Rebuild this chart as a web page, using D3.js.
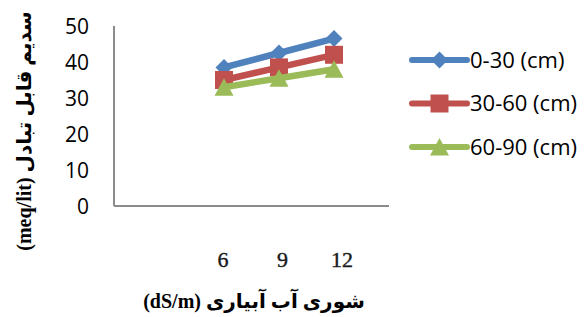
<!DOCTYPE html>
<html>
<head>
<meta charset="utf-8">
<script src="https://cdn.jsdelivr.net/npm/d3@7"></script>
<style>
	body { margin: 0; background: #fff; }
	svg { display: block; }
</style>
</head>
<body>
<svg id="chart" width="587" height="317"></svg>
<script>

// salinity of irrigation water (dS/m)
var salinity	= [6, 9, 12];
var xTicks		= ["6", "9", "12"];
var yTicks		= [0, 10, 20, 30, 40, 50];

var depth0_30	= [38.5, 42.5, 46.5];
var depth30_60	= [35, 38.5, 42];
var depth60_90	= [33, 35.5, 38];

var seriesNames	= ["0-30 (cm)", "30-60 (cm)", "60-90 (cm)"];
var seriesColors = ["#4F81BD", "#C0504D", "#9BBB59"];
var seriesShapes = ["diamond", "square", "triangle"];

var yTitle = "سدیم قابل تبادل (meq/lit)";
var xTitle = "شوری آب آبیاری (dS/m)";

function main() {

	var svg = d3.select("#chart");

	var x = d3.scaleLinear().domain([0, 15]).range([114, 389]);
	var y = d3.scaleLinear().domain([0, 50]).range([206, 26]);

	// the category labels sit a bit wider than the points in the original
	var xLabel = d3.scaleLinear().domain([6, 12]).range([223, 342]);

	var series = [depth0_30, depth30_60, depth60_90];

	// axis lines
	svg.append("line")
		.attr("x1", x(0)).attr("x2", x(0))
		.attr("y1", y(50)).attr("y2", y(0))
		.attr("stroke", "#8c8c8c")
		.attr("stroke-width", 2);

	svg.append("line")
		.attr("x1", x(0)).attr("x2", x(15))
		.attr("y1", y(0)).attr("y2", y(0))
		.attr("stroke", "#8c8c8c")
		.attr("stroke-width", 2);

	svg.append("g")
		.selectAll("text")
		.data(yTicks)
		.enter().append("text")
		.attr("x", 89)
		.attr("y", function(d) { return y(d); })
		.attr("dy", "0.36em")
		.attr("text-anchor", "end")
		.attr("font-family", "Open Sans, Liberation Sans, sans-serif")
		.attr("font-size", 21)
		.attr("fill", "#000")
		.text(function(d) { return d; });

	svg.append("g")
		.selectAll("text")
		.data(salinity)
		.enter().append("text")
		.attr("x", function(d) { return xLabel(d); })
		.attr("y", 267)
		.attr("text-anchor", "middle")
		.attr("font-family", "Liberation Serif, Times New Roman, serif")
		.attr("font-size", 22)
		.attr("stroke", "#1a1a1a")
		.attr("stroke-width", 0.4)
		.attr("fill", "#1a1a1a")
		.text(function(d, i) { return xTicks[i]; });

	// titles
	svg.append("text")
		.attr("transform", "translate(31,131) rotate(-90)")
		.attr("text-anchor", "middle")
		.attr("direction", "rtl")
		.attr("font-family", "Liberation Serif, DejaVu Sans, serif")
		.attr("font-weight", "bold")
		.attr("font-size", 20)
		.text(yTitle);

	svg.append("text")
		.attr("x", 254)
		.attr("y", 308)
		.attr("text-anchor", "middle")
		.attr("direction", "rtl")
		.attr("font-family", "Liberation Serif, DejaVu Sans, serif")
		.attr("font-weight", "bold")
		.attr("font-size", 20)
		.text(xTitle);

	var line = d3.line()
		.x(function(d, i) { return x(salinity[i]); })
		.y(function(d) { return y(d); });

	series.forEach(function(values, s) {

		svg.append("path")
			.datum(values)
			.attr("d", line)
			.attr("fill", "none")
			.attr("stroke", seriesColors[s])
			.attr("stroke-width", 6.5)
			.attr("stroke-linejoin", "round");

		svg.append("g")
			.selectAll("path")
			.data(values)
			.enter().append("path")
			.attr("d", markerPath(seriesShapes[s]))
			.attr("transform", function(d, i) {
				return "translate(" + x(salinity[i]) + "," + y(d) + ")";
			})
			.attr("fill", seriesColors[s]);
	});

	// legend
	var legend = svg.append("g")
		.selectAll("g")
		.data(seriesNames)
		.enter().append("g")
		.attr("transform", function(d, i) { return "translate(412," + (60 + i * 43.5) + ")"; });

	legend.append("line")
		.attr("x1", 0).attr("x2", 55)
		.attr("stroke", function(d, i) { return seriesColors[i]; })
		.attr("stroke-width", 6)
		.attr("stroke-linecap", "round");

	legend.append("path")
		.attr("d", function(d, i) { return markerPath(seriesShapes[i]); })
		.attr("transform", "translate(27.5,0)")
		.attr("fill", function(d, i) { return seriesColors[i]; });

	legend.append("text")
		.attr("x", 58)
		.attr("dy", "0.36em")
		.attr("font-family", "Open Sans, Liberation Sans, sans-serif")
		.attr("font-size", 22)
		.attr("fill", "#000")
		.text(function(d) { return d; });
}

function markerPath(shape) {

	if ( shape == "diamond" ) {
		return "M0,-8.5L8.5,0L0,8.5L-8.5,0Z";
	}
	else if ( shape == "square" ) {
		return "M-9,-9H9V9H-9Z";
	}

	return "M0,-9L9.5,8.5H-9.5Z";
}

main();
</script>
</body>
</html>
